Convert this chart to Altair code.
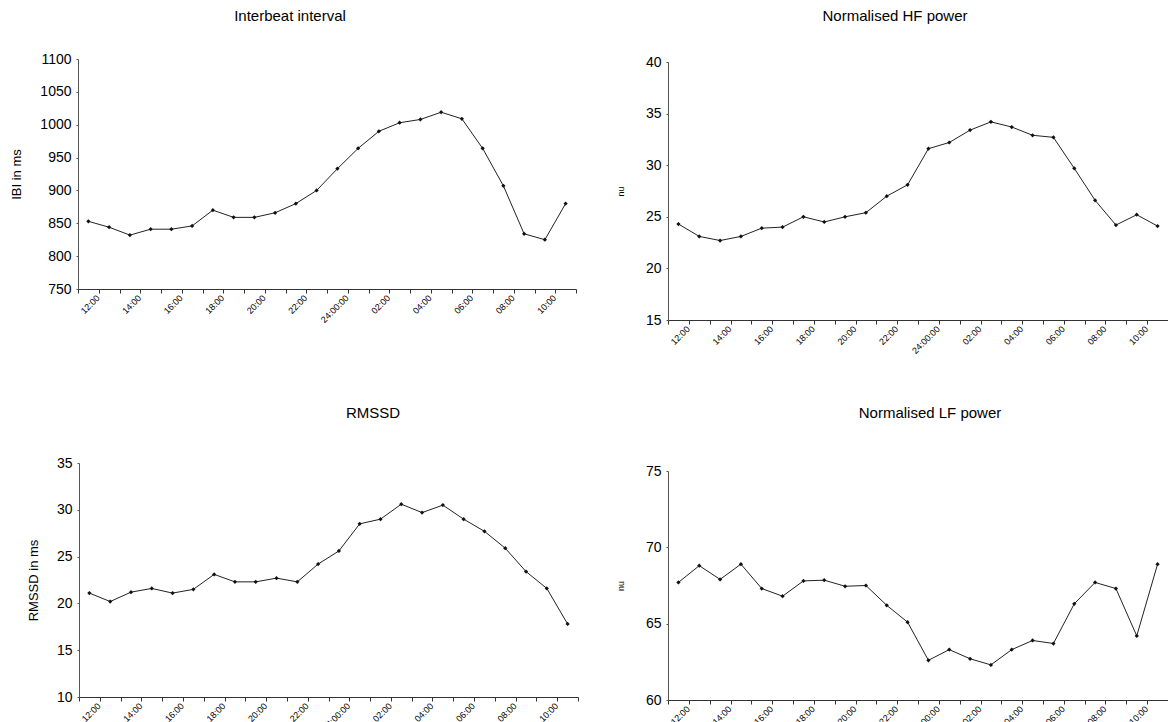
import altair as alt
import pandas as pd

W, H = 1168, 722

times = ["12:00", "13:00", "14:00", "15:00", "16:00", "17:00", "18:00", "19:00",
         "20:00", "21:00", "22:00", "23:00", "24:00:00", "01:00", "02:00", "03:00",
         "04:00", "05:00", "06:00", "07:00", "08:00", "09:00", "10:00", "11:00"]
shown_labels = ["12:00", "14:00", "16:00", "18:00", "20:00", "22:00", "24:00:00",
                "02:00", "04:00", "06:00", "08:00", "10:00"]

ibi = [853, 844, 832, 841, 841, 846, 870, 859, 859, 866, 880, 900,
       933, 964, 990, 1003, 1008, 1019, 1009, 964, 907, 834, 825, 880]
hf = [24.3, 23.1, 22.7, 23.1, 23.9, 24.0, 25.0, 24.5, 25.0, 25.4, 27.0, 28.1,
      31.6, 32.2, 33.4, 34.2, 33.7, 32.9, 32.7, 29.7, 26.6, 24.2, 25.2, 24.1]
rmssd = [21.1, 20.2, 21.2, 21.6, 21.1, 21.5, 23.1, 22.3, 22.3, 22.7, 22.3, 24.2,
         25.6, 28.5, 29.0, 30.6, 29.7, 30.5, 29.0, 27.7, 25.9, 23.4, 21.6, 17.8]
lf = [67.7, 68.8, 67.9, 68.9, 67.3, 66.8, 67.8, 67.85, 67.45, 67.5, 66.2, 65.1,
      62.6, 63.3, 62.7, 62.3, 63.3, 63.9, 63.7, 66.3, 67.7, 67.3, 64.2, 68.9]

FONT = "Liberation Sans"
INK = "#000000"
label_list = "[" + ",".join("'%s'" % s for s in shown_labels) + "]"


def panel(values, xr, yr, dom, step, ytitle, ytitle_size, title_pad):
    df = pd.DataFrame({"time": times, "value": values})
    x0, x1 = xr
    ytop, ybot = yr
    bw = (x1 - x0) / len(times)
    tick_vals = list(range(dom[0], dom[1] + 1, step))
    x_enc = alt.X(
        "time:N", sort=times,
        scale=alt.Scale(type="band", range=[x0, x1], paddingInner=0, paddingOuter=0),
        axis=alt.Axis(
            orient="bottom", offset=-(H - ybot), title=None,
            labelExpr="indexof(" + label_list + ", datum.value) >= 0 ? datum.value : ''",
            labelAngle=315, labelAlign="right", labelBaseline="middle",
            labelFont=FONT, labelFontSize=9, labelColor=INK, labelPadding=3,
            labelOffset=bw / 2 - 1,
            labelOverlap=False, tickBand="extent", tickSize=4, tickColor="#333333",
            domainColor="#333333", domainWidth=1, grid=False,
        ),
    )
    y_enc = alt.Y(
        "value:Q",
        scale=alt.Scale(domain=list(dom), range=[ybot, ytop], nice=False, zero=False),
        axis=alt.Axis(
            orient="left", offset=-x0, values=tick_vals, format="d", title=ytitle,
            titleFont=FONT, titleFontSize=ytitle_size, titleFontWeight="normal",
            titleColor=INK, titlePadding=title_pad,
            labelFont=FONT, labelFontSize=14, labelColor=INK, labelPadding=5,
            tickSize=2, tickColor="#555555", domainColor="#555555", domainWidth=1,
            grid=False,
        ),
    )
    base = alt.Chart(df).encode(x=x_enc, y=y_enc)
    line = base.mark_line(color="#222222", strokeWidth=1)
    pts = base.mark_point(shape="diamond", filled=True, size=18, color="#111111", opacity=1)
    return alt.layer(line, pts)


def title(text, x, y):
    return alt.Chart(pd.DataFrame({"t": [text]})).mark_text(
        font=FONT, fontSize=15, color=INK, align="center", baseline="middle"
    ).encode(text="t:N", x=alt.value(x), y=alt.value(y))


p1 = panel(ibi, (78, 576), (59, 289), (750, 1100), 50, "IBI in ms", 13, 16)
p2 = panel(hf, (668, 1168), (62, 320), (15, 40), 5, "nu", 9, 20)
p3 = panel(rmssd, (79, 578), (463, 697), (10, 35), 5, "RMSSD in ms", 13, 16)
p4 = panel(lf, (668, 1168), (471, 700), (60, 75), 5, "nu", 9, 20)

chart = alt.layer(
    p1, p2, p3, p4,
    title("Interbeat interval", 290, 16),
    title("Normalised HF power", 895, 16),
    title("RMSSD", 373, 413),
    title("Normalised LF power", 930, 413),
).resolve_scale(x="independent", y="independent").resolve_axis(
    x="independent", y="independent"
).properties(
    width=W, height=H, autosize=alt.AutoSizeParams(type="none"), padding=0,
    background="white",
).configure_view(stroke=None)

chart.save("out.html", embed_options={"renderer": "svg", "actions": False})
